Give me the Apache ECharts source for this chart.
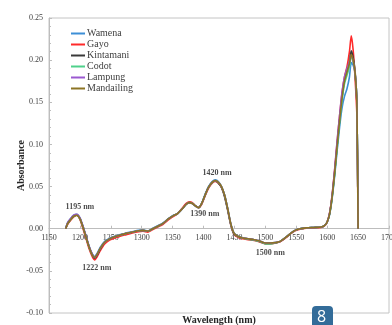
<!DOCTYPE html>
<html><head><meta charset="utf-8">
<script src="https://cdn.jsdelivr.net/npm/echarts@6/dist/echarts.min.js"></script>
<style>html,body{margin:0;padding:0;background:#fff}#c{width:392px;height:325px}</style>
</head><body><div id="c"></div>
<script>
const wavelengths = [1177,1180,1185,1190,1195,1200,1205,1210,1215,1220,1224,1228,1233,1240,1248,1256,1265,1275,1285,1295,1302,1310,1318,1326,1334,1342,1350,1358,1365,1372,1377,1382,1387,1392,1397,1402,1408,1414,1419,1424,1429,1434,1439,1444,1449,1455,1463,1472,1482,1492,1500,1508,1516,1524,1532,1540,1548,1556,1566,1578,1590,1596,1600,1604,1608,1612,1616,1620,1624,1628,1632,1636,1639,1642,1645,1648,1650];

const wamena = [0.000,0.007,0.012,0.016,0.017, 0.013,0.003,-0.009,-0.021,-0.030, -0.033,-0.029,-0.022,-0.015,-0.0115, -0.009,-0.007,-0.005,-0.0035,-0.002, -0.0015,-0.0025,0.0005,0.0035,0.0065, 0.0115,0.0155,0.018,0.023,0.029, 0.031,0.030,0.027,0.025,0.030, 0.040,0.050,0.056,0.058,0.056, 0.050,0.040,0.024,0.006,-0.005, -0.009,-0.011,-0.012,-0.013,-0.015, -0.017,-0.017,-0.0165,-0.015,-0.011, -0.006,-0.002,0.000,0.001,0.0015, 0.002,0.004,0.008,0.017,0.036, 0.062,0.092,0.120,0.143,0.157, 0.166,0.180,0.197,0.194,0.185, 0.150,0.000];
const gayo = [0.000,0.005,0.010,0.014,0.016, 0.011,0.000,-0.012,-0.024,-0.033, -0.037,-0.033,-0.026,-0.018,-0.0135, -0.011,-0.009,-0.007,-0.005,-0.0035, -0.003,-0.004,-0.001,0.002,0.005, 0.010,0.014,0.018,0.024,0.030, 0.032,0.031,0.027,0.025,0.029, 0.038,0.048,0.054,0.056,0.054, 0.049,0.039,0.023,0.005,-0.006, -0.010,-0.012,-0.013,-0.014,-0.016, -0.018,-0.018,-0.017,-0.0155,-0.0115, -0.0065,-0.0025,-0.0005,0.0005,0.001, 0.0015,0.0035,0.008,0.019,0.040, 0.069,0.102,0.133,0.161,0.180, 0.192,0.210,0.229,0.212,0.180, 0.135,0.000];
const kintamani = [0.000,0.006,0.011,0.015,0.016, 0.012,0.002,-0.010,-0.022,-0.031, -0.035,-0.031,-0.024,-0.016,-0.012, -0.0095,-0.0075,-0.0055,-0.004,-0.0025, -0.002,-0.003,0.000,0.003,0.006, 0.011,0.015,0.018,0.023,0.029, 0.031,0.030,0.027,0.025,0.030, 0.039,0.049,0.055,0.057,0.054, 0.049,0.038,0.022,0.005,-0.006, -0.009,-0.011,-0.012,-0.0135,-0.0155, -0.0175,-0.0175,-0.017,-0.015,-0.011, -0.006,-0.002,0.000,0.001,0.0015, 0.002,0.004,0.008,0.018,0.038, 0.066,0.098,0.128,0.156,0.176, 0.187,0.198,0.211,0.203,0.188, 0.150,0.000];
const codot = [0.000,0.006,0.011,0.015,0.016, 0.012,0.002,-0.010,-0.022,-0.031, -0.034,-0.030,-0.023,-0.016,-0.012, -0.0095,-0.0075,-0.0055,-0.004,-0.0025, -0.002,-0.003,0.000,0.003,0.006, 0.011,0.015,0.018,0.023,0.029, 0.031,0.030,0.027,0.025,0.030, 0.039,0.049,0.055,0.057,0.055, 0.050,0.040,0.024,0.006,-0.005, -0.009,-0.011,-0.0125,-0.0135,-0.0155, -0.018,-0.018,-0.017,-0.015,-0.011, -0.006,-0.002,0.000,0.001,0.0015, 0.002,0.004,0.008,0.018,0.037, 0.064,0.095,0.125,0.152,0.172, 0.182,0.192,0.204,0.198,0.185, 0.150,0.000];
const lampung = [0.000,0.007,0.012,0.016,0.017, 0.013,0.003,-0.009,-0.021,-0.030, -0.034,-0.030,-0.023,-0.016,-0.012, -0.0095,-0.0075,-0.0055,-0.004,-0.0025, -0.002,-0.003,0.000,0.003,0.006, 0.011,0.015,0.018,0.023,0.029, 0.031,0.030,0.027,0.025,0.030, 0.039,0.049,0.055,0.057,0.055, 0.050,0.040,0.024,0.006,-0.005, -0.009,-0.011,-0.012,-0.013,-0.015, -0.017,-0.017,-0.0165,-0.015,-0.011, -0.006,-0.002,0.000,0.001,0.0015, 0.002,0.004,0.008,0.019,0.040, 0.070,0.104,0.134,0.162,0.180, 0.190,0.198,0.206,0.199,0.186, 0.150,0.000];
const mandailing = [0.000,0.006,0.011,0.015,0.016, 0.012,0.002,-0.010,-0.022,-0.031, -0.034,-0.030,-0.023,-0.016,-0.012, -0.0095,-0.0075,-0.0055,-0.004,-0.0025, -0.002,-0.003,0.000,0.003,0.006, 0.011,0.015,0.018,0.023,0.029, 0.031,0.030,0.027,0.025,0.030, 0.039,0.049,0.055,0.057,0.055, 0.050,0.040,0.024,0.006,-0.005, -0.009,-0.011,-0.012,-0.013,-0.015, -0.017,-0.017,-0.0165,-0.015,-0.011, -0.006,-0.002,0.000,0.001,0.0015, 0.002,0.004,0.008,0.018,0.038, 0.066,0.098,0.128,0.155,0.175, 0.186,0.196,0.207,0.200,0.186, 0.150,0.000];

const seriesNames = ['Wamena','Gayo','Kintamani','Codot','Lampung','Mandailing'];
const seriesValues = [wamena, gayo, kintamani, codot, lampung, mandailing];
const seriesColors = ['#3d8fd6','#ff2a2a','#3a3a3a','#4fd18b','#9b59d0','#8c7424'];

const annoText = ['1195 nm','1222 nm','1390 nm','1420 nm','1500 nm'];
const annoX = [1200, 1227.5, 1402, 1422, 1508];
const annoY = [0.026, -0.047, 0.018, 0.066, -0.0285];

const yTicks = [-0.10,-0.05,0.00,0.05,0.10,0.15,0.20,0.25];
const xTicks = [1150,1200,1250,1300,1350,1400,1450,1500,1550,1600,1650,1700];

const FONT = 'Liberation Serif';
const GRID = {left: 49, right: 3, top: 18, bottom: 12};
const H = 325;
const yMin = yTicks[0], yMax = yTicks[yTicks.length-1];
const plotH = H - GRID.top - GRID.bottom;
const zeroOffset = -plotH * (0 - yMin) / (yMax - yMin);

const chart = echarts.init(document.getElementById('c'), null, {renderer:'canvas'});

const series = seriesNames.map((n, i) => ({
  name: n, type: 'line', showSymbol: false, smooth: 0.25,
  lineStyle: {width: 1.6, color: seriesColors[i]}, itemStyle: {color: seriesColors[i]},
  data: wavelengths.map((w, k) => [w, seriesValues[i][k]]), z: 2 + i
}));
series.push({
  type: 'scatter', silent: true, symbolSize: 0, z: 20,
  data: annoX.map((x, i) => [x, annoY[i], annoText[i]]),
  label: {show: true, position: 'inside', formatter: p => p.data[2],
    fontFamily: FONT, fontSize: 8, fontWeight: 'bold', color: '#1a1a1a'}
});

chart.setOption({
  animation: false,
  backgroundColor: '#fff',
  textStyle: {fontFamily: FONT},
  grid: Object.assign({containLabel: false, outerBoundsMode: 'none',
    show: true, borderColor: '#c4c4c4', borderWidth: 1, backgroundColor: 'transparent'}, GRID),
  legend: {
    data: seriesNames, orient: 'vertical', left: 71, top: 28, padding: 0,
    icon: 'rect', itemWidth: 14, itemHeight: 2, itemGap: 0,
    formatter: '{t|{name}}',
    textStyle: {fontFamily: FONT, fontSize: 10, lineHeight: 11, color: '#404040',
      rich: {t: {fontFamily: FONT, fontSize: 10, lineHeight: 11, color: '#404040', padding: [0,0,0,-3]}}}
  },
  xAxis: {
    type: 'value', min: xTicks[0], max: xTicks[xTicks.length-1], interval: 50,
    offset: zeroOffset,
    name: 'Wavelength (nm)', nameLocation: 'middle', nameGap: 87, nameMoveOverlap: false,
    nameTextStyle: {fontFamily: FONT, fontSize: 10, fontWeight: 'bold', color: '#262626'},
    axisLine: {show: true, onZero: false, lineStyle: {color: '#bdbdbd', width: 1}},
    axisTick: {show: true, inside: true, length: 3, lineStyle: {color: '#bdbdbd'}},
    axisLabel: {margin: 5, fontFamily: FONT, fontSize: 8, color: '#404040', showMaxLabel: true, showMinLabel: true, formatter: v => String(v)},
    splitLine: {show: false}
  },
  yAxis: {
    type: 'value', min: yMin, max: yMax, interval: 0.05,
    name: 'Absorbance', nameLocation: 'middle', nameGap: 23, nameMoveOverlap: false,
    nameTextStyle: {fontFamily: FONT, fontSize: 10, fontWeight: 'bold', color: '#262626'},
    axisLine: {show: true, lineStyle: {color: '#bdbdbd', width: 1}},
    axisTick: {show: true, inside: true, length: 3, lineStyle: {color: '#bdbdbd'}},
    minorTick: {show: true, splitNumber: 5, length: 2, lineStyle: {color: '#bdbdbd'}},
    axisLabel: {margin: 6, fontFamily: FONT, fontSize: 8, color: '#404040', formatter: v => v.toFixed(2)},
    splitLine: {show: false}
  },
  graphic: [
    {type: 'rect', left: 312, top: 306, shape: {width: 21, height: 24, r: [4,4,0,0]}, style: {fill: '#336c99'}, z: 100},
    {type: 'text', left: 317, top: 309, style: {text: '8', fill: '#ffffff', font: '16px "Open Sans"'}, z: 101}
  ],
  series: series
});
</script></body></html>
